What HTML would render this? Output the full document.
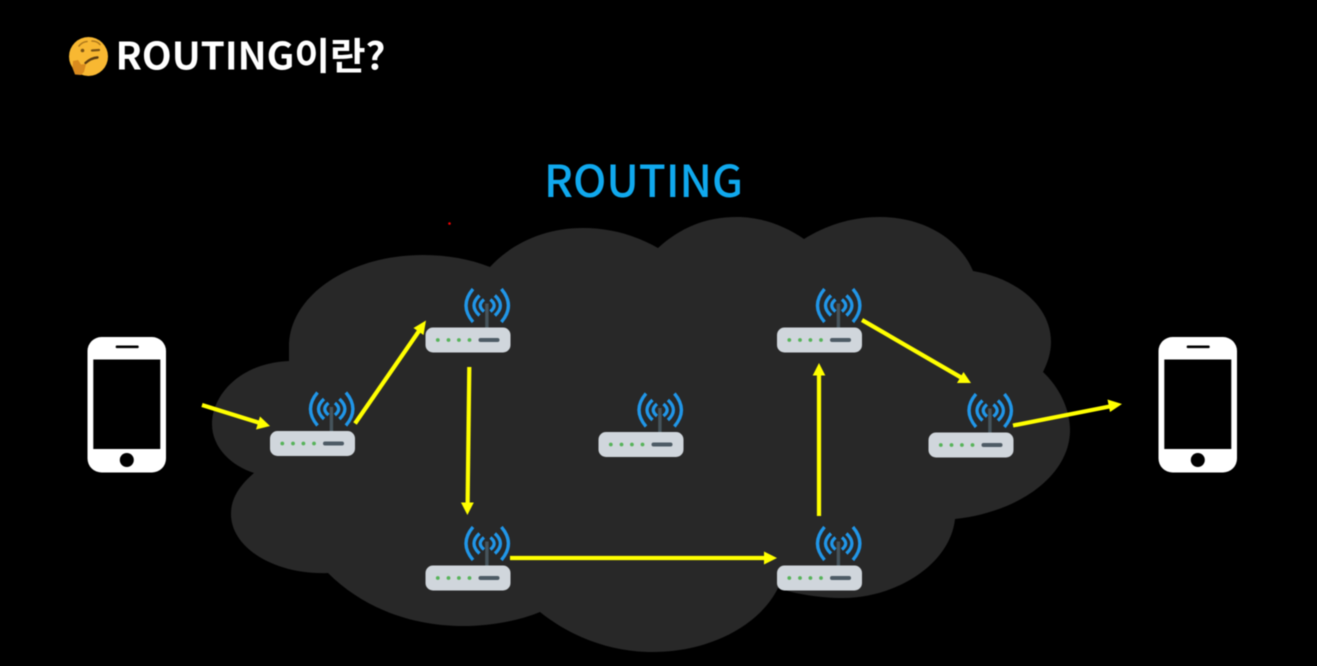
<!DOCTYPE html>
<html lang="ko">
<head>
<meta charset="utf-8">
<title>ROUTING</title>
<style>
html,body{margin:0;padding:0;background:#000;width:1317px;height:666px;overflow:hidden}
svg{display:block;filter:blur(0.4px)}
</style>
</head>
<body>
<svg xmlns="http://www.w3.org/2000/svg" width="1317" height="666" viewBox="0 0 1317 666">
<defs>
<g id="router">
  <g fill="none" stroke="#2196e8" stroke-width="3.3" stroke-linecap="butt">
    <path d="M47.5 -38.5 Q33.5 -22 47.5 -5.5"/>
    <path d="M54 -32 Q43 -22 54 -12"/>
    <path d="M58.5 -28 Q51 -22 58.5 -16"/>
    <path d="M75.9 -38.5 Q89.9 -22 75.9 -5.5"/>
    <path d="M69.4 -32 Q80.4 -22 69.4 -12"/>
    <path d="M64.9 -28 Q72.4 -22 64.9 -16"/>
  </g>
  <rect x="59.7" y="-24" width="3.4" height="25" fill="#46545c"/>
  <rect x="0" y="0" width="85" height="25" rx="7.5" fill="#d0d6dc"/>
  <g fill="#57b35a">
    <circle cx="12.3" cy="12.5" r="1.9"/>
    <circle cx="23" cy="12.5" r="1.9"/>
    <circle cx="33.4" cy="12.5" r="1.9"/>
    <circle cx="44" cy="12.5" r="1.9"/>
  </g>
  <rect x="53" y="10.5" width="21" height="4" rx="2" fill="#4d5b65"/>
</g>
<g id="phone">
  <rect x="87.5" y="337" width="78.5" height="135.5" rx="14" fill="#fff"/>
  <rect x="93.3" y="359.5" width="67" height="89.5" fill="#000"/>
  <rect x="115.7" y="345.5" width="23" height="2.6" rx="1" fill="#000"/>
  <circle cx="126.8" cy="460" r="7" fill="#000"/>
</g>
</defs>

<rect width="1317" height="666" fill="#000"/>

<path fill="#282828" d="M289 361
C240 363 212 395 212 424 C212 448 232 466 254 473
C240 485 231 498 231 514 C231 548 275 575 328 573
C365 610 415 626 463 626 C490 626 518 621 540 612
C575 640 615 652 653 652 C710 652 760 625 778 588
C795 594 820 598 843 598 C895 598 950 565 955 519
C1020 512 1070 475 1070 430 C1070 410 1060 388 1043 372
C1048 362 1051 352 1051 342 C1051 305 1015 278 973 271
C960 240 925 217 880 217 C850 217 825 226 804 239
C785 226 762 217 737 217 C705 217 680 228 658 248
C635 235 610 228 583 228 C545 228 512 243 490 267
C470 259 447 255 423 255 C350 255 289 295 289 347 Z"/>

<use href="#phone"/>
<use href="#phone" x="1071"/>

<use href="#router" x="270" y="431"/>
<use href="#router" x="425.5" y="327.5"/>
<use href="#router" x="598.5" y="432"/>
<use href="#router" x="777" y="327.5"/>
<use href="#router" x="928.5" y="432.5"/>
<use href="#router" x="425.5" y="565.5"/>
<use href="#router" x="777" y="565.5"/>

<g stroke="#ffff00" stroke-width="4.2" fill="none">
  <line x1="202" y1="405" x2="260" y2="423"/>
  <line x1="355" y1="423.5" x2="419" y2="331"/>
  <line x1="469.3" y1="367" x2="467.6" y2="504"/>
  <line x1="510" y1="558" x2="767" y2="558"/>
  <line x1="819" y1="516" x2="819" y2="373"/>
  <line x1="862" y1="320" x2="962" y2="378"/>
  <line x1="1013" y1="425.5" x2="1112" y2="406"/>
</g>
<g fill="#ffff00">
  <polygon points="270,426 256,429.5 260,416.5"/>
  <polygon points="426,320.5 423.5,335 413.5,328"/>
  <polygon points="467.4,515 461,502.5 473.8,502.5"/>
  <polygon points="777,558 764,551.5 764,564.5"/>
  <polygon points="819,363 812.7,375.5 825.3,375.5"/>
  <polygon points="971,383 957,383 963.5,372"/>
  <polygon points="1122,404 1110,412 1107.5,399.5"/>
</g>

<circle cx="449.5" cy="223.5" r="1.3" fill="#f00000"/>

<!-- thinking face -->
<circle cx="88.5" cy="56.5" r="19.5" fill="#f8b832"/>
<path d="M79 46 Q82 42 87 41.5" fill="none" stroke="#b07a1c" stroke-width="1.6" stroke-linecap="round"/>
<path d="M92 41 Q97 41 100 44.5" fill="none" stroke="#b07a1c" stroke-width="1.6" stroke-linecap="round"/>
<circle cx="82.5" cy="50.5" r="1.8" fill="#7a5314"/>
<path d="M92 50.5 L99 50" fill="none" stroke="#7a5314" stroke-width="2.2" stroke-linecap="round"/>
<path d="M85.5 63 Q91 58 97.5 57.5" fill="none" stroke="#5d3d10" stroke-width="2.4" stroke-linecap="round"/>
<path d="M73 61 L78 60 L81 64.5 L86 64 L84 72 L81 75 L75 74.5 L72.5 68 Z" fill="#d98a1e"/>

<text x="115.5" y="69.5" font-size="37.5" font-weight="700" fill="#fff" textLength="270" lengthAdjust="spacingAndGlyphs" style="font-family:'Noto Sans CJK KR','Liberation Sans',sans-serif">ROUTING이란?</text>
<text x="544" y="197" font-size="44" font-weight="500" fill="#10a9ee" textLength="199" lengthAdjust="spacingAndGlyphs" style="font-family:'Noto Sans CJK KR','Liberation Sans',sans-serif">ROUTING</text>
</svg>
</body>
</html>
